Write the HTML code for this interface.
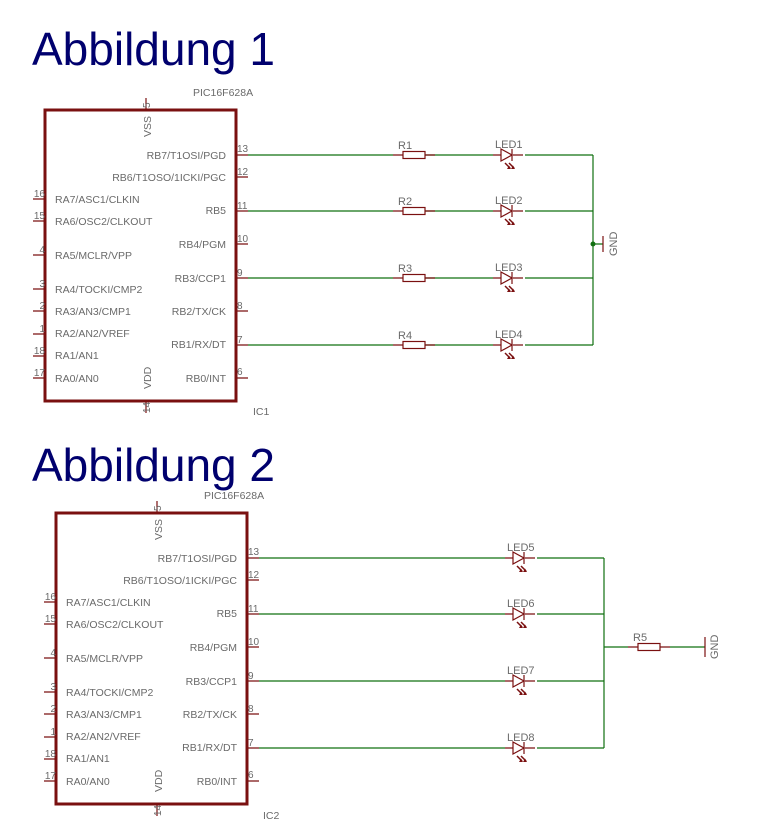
<!DOCTYPE html>
<html><head><meta charset="utf-8"><style>
html,body{margin:0;padding:0;background:#fff;}
svg{display:block;}
.t{font-family:"Liberation Sans",sans-serif;fill:#6a6a6a;font-size:10.5px;}
.n{font-family:"Liberation Sans",sans-serif;fill:#6a6a6a;font-size:10px;}
.h{font-family:"Liberation Sans",sans-serif;fill:#00006e;font-size:46px;}
.r{stroke:#7a1010;fill:none;stroke-width:1.2;}
.g{stroke:#107010;fill:none;stroke-width:1.2;}
</style></head><body>
<svg width="776" height="832" viewBox="0 0 776 832" xmlns="http://www.w3.org/2000/svg">
<defs>
<g id="chip">
  <rect x="45" y="110" width="191" height="291" stroke="#7a1010" stroke-width="3" fill="none"/>
  <g class="r">
    <path d="M146 98V110 M146 401V413"/>
    <path d="M236 155H248 M236 177H248 M236 211H248 M236 244H248 M236 278H248 M236 311H248 M236 345H248 M236 378H248"/>
    <path d="M33 199H45 M33 221H45 M33 255H45 M33 289H45 M33 311H45 M33 334H45 M33 356H45 M33 378H45"/>
  </g>
  <text class="n" transform="translate(150,108) rotate(-90)">5</text>
  <text class="n" transform="translate(150,413) rotate(-90)">14</text>
  <text class="t" transform="translate(151,137) rotate(-90)">VSS</text>
  <text class="t" transform="translate(151,389) rotate(-90)">VDD</text>
  <g class="n">
    <text x="237" y="152">13</text><text x="237" y="175">12</text><text x="237" y="209">11</text><text x="237" y="242">10</text>
    <text x="237" y="276">9</text><text x="237" y="309">8</text><text x="237" y="343">7</text><text x="237" y="375">6</text>
  </g>
  <g class="n" text-anchor="end">
    <text x="45" y="197">16</text><text x="45" y="219">15</text><text x="45" y="253">4</text><text x="45" y="287">3</text>
    <text x="45" y="309">2</text><text x="45" y="332">1</text><text x="45" y="354">18</text><text x="45" y="376">17</text>
  </g>
  <g class="t" text-anchor="end">
    <text x="226" y="159">RB7/T1OSI/PGD</text>
    <text x="226" y="181">RB6/T1OSO/1ICKI/PGC</text>
    <text x="226" y="214">RB5</text>
    <text x="226" y="248">RB4/PGM</text>
    <text x="226" y="282">RB3/CCP1</text>
    <text x="226" y="315">RB2/TX/CK</text>
    <text x="226" y="348">RB1/RX/DT</text>
    <text x="226" y="382">RB0/INT</text>
  </g>
  <g class="t">
    <text x="55" y="203">RA7/ASC1/CLKIN</text>
    <text x="55" y="225">RA6/OSC2/CLKOUT</text>
    <text x="55" y="259">RA5/MCLR/VPP</text>
    <text x="55" y="293">RA4/TOCKI/CMP2</text>
    <text x="55" y="315">RA3/AN3/CMP1</text>
    <text x="55" y="337">RA2/AN2/VREF</text>
    <text x="55" y="359">RA1/AN1</text>
    <text x="55" y="382">RA0/AN0</text>
  </g>
</g>
<g id="led">
  <path d="M-10 0H-2 M10 0H20" class="r"/>
  <path d="M-2 -6L9 0L-2 6Z" class="r"/>
  <path d="M9 -6V6" class="r"/>
  <path d="M2 8L7 13 M6 8L11 13" stroke="#7a1010" stroke-width="1.5"/>
  <path d="M8 14l-4 0l2-3.5z M12 14l-4 0l2-3.5z" fill="#7a1010"/>
</g>
<g id="res">
  <path d="M-10 0H0 M22 0H32" class="r"/>
  <rect x="0" y="-3.5" width="22" height="7" class="r"/>
</g>
</defs>

<text class="h" x="32" y="65">Abbildung 1</text>
<text class="h" x="32" y="481">Abbildung 2</text>

<!-- Fig 1 -->
<use href="#chip"/>
<text class="t" x="193" y="96" style="font-size:10.5px">PIC16F628A</text>
<text class="t" x="253" y="415" style="font-size:10.5px">IC1</text>
<g class="g">
  <path d="M248 155H393 M425 155H493 M525 155H593"/>
  <path d="M248 211H393 M425 211H493 M525 211H593"/>
  <path d="M248 278H393 M425 278H493 M525 278H593"/>
  <path d="M248 345H393 M425 345H493 M525 345H593"/>
  <path d="M593 155V345 M593 244H603"/>
</g>
<circle cx="593" cy="244" r="2.5" fill="#107010"/>
<path d="M603 236V252" class="r" stroke-width="1.5"/>
<text class="t" transform="translate(617,256) rotate(-90)" style="font-size:11px">GND</text>
<use href="#res" x="403" y="155"/><use href="#res" x="403" y="211"/><use href="#res" x="403" y="278"/><use href="#res" x="403" y="345"/>
<use href="#led" x="503" y="155"/><use href="#led" x="503" y="211"/><use href="#led" x="503" y="278"/><use href="#led" x="503" y="345"/>
<g class="t" style="font-size:11px">
  <text x="398" y="149">R1</text><text x="398" y="205">R2</text><text x="398" y="272">R3</text><text x="398" y="339">R4</text>
  <text x="495" y="148">LED1</text><text x="495" y="204">LED2</text><text x="495" y="271">LED3</text><text x="495" y="338">LED4</text>
</g>

<!-- Fig 2 -->
<use href="#chip" transform="translate(11,403)"/>
<text class="t" x="204" y="499" style="font-size:10.5px">PIC16F628A</text>
<text class="t" x="263" y="819" style="font-size:10.5px">IC2</text>
<g class="g">
  <path d="M259 558H505 M537 558H604"/>
  <path d="M259 614H505 M537 614H604"/>
  <path d="M259 681H505 M537 681H604"/>
  <path d="M259 748H505 M537 748H604"/>
  <path d="M604 558V748 M604 647H628 M670 647H705"/>
</g>
<use href="#res" x="638" y="647"/>
<path d="M705 637V657" class="r" stroke-width="1.5"/>
<text class="t" transform="translate(718,659) rotate(-90)" style="font-size:11px">GND</text>
<use href="#led" x="515" y="558"/><use href="#led" x="515" y="614"/><use href="#led" x="515" y="681"/><use href="#led" x="515" y="748"/>
<g class="t" style="font-size:11px">
  <text x="633" y="641">R5</text>
  <text x="507" y="551">LED5</text><text x="507" y="607">LED6</text><text x="507" y="674">LED7</text><text x="507" y="741">LED8</text>
</g>
</svg>
</body></html>
